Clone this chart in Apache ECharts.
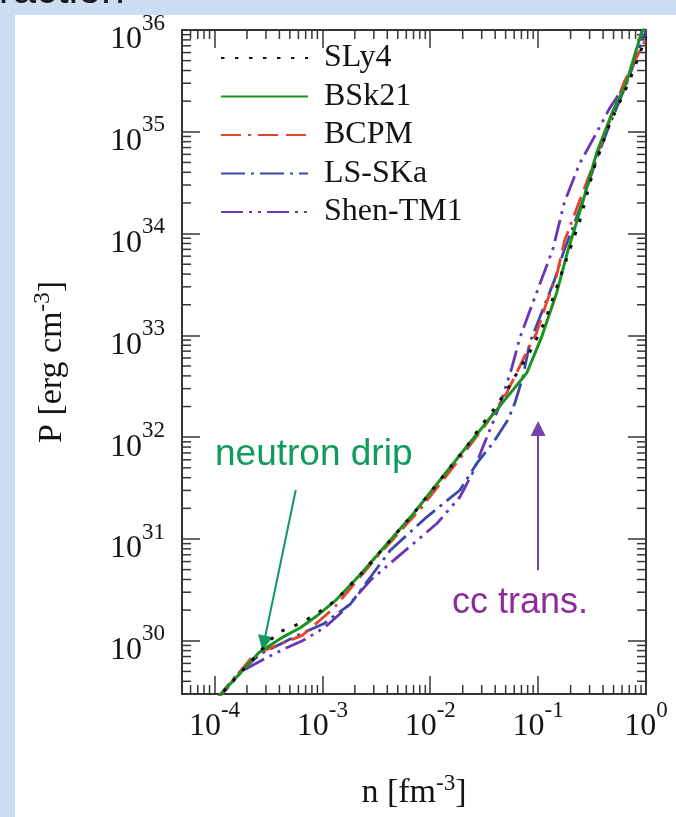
<!DOCTYPE html>
<html>
<head>
<meta charset="utf-8">
<script src="https://cdn.jsdelivr.net/npm/echarts@6/dist/echarts.min.js"></script>
<style>
  html, body { margin: 0; padding: 0; background: #ffffff; }
  #main { width: 676px; height: 817px; }
</style>
</head>
<body>
<div id="main"></div>
<script>
// Neutron-star crust equations of state: pressure P [erg cm^-3] vs number density n [fm^-3]

const seriesNames = ['SLy4', 'BSk21', 'BCPM', 'LS-SKa', 'Shen-TM1'];

const nSLy4 = [1.0e-4, 1.15e-4, 2.6e-4, 3.87e-4, 5.1e-4, 6.72e-4, 8.67e-4, 1.327e-3, 2.26e-3, 7.0e-3, 0.0218, 0.030, 0.0358, 0.0493, 0.0894, 0.1154, 0.183, 0.2427, 0.3318, 0.4563, 0.7026, 1.0];
const pSLy4 = [2.5e29, 3.0e29, 7.7e29, 1.21e30, 1.35e30, 1.55e30, 1.82e30, 2.49e30, 4.5e30, 1.78e31, 8.1e31, 1.32e32, 1.66e32, 2.71e32, 7.77e32, 1.37e33, 5.58e33, 1.32e34, 4.5e34, 1.17e35, 3.16e35, 8.6e35];

const nBSk21 = [1.0e-4, 1.15e-4, 2.6e-4, 4.39e-4, 6.3e-4, 8.86e-4, 1.327e-3, 2.26e-3, 7.0e-3, 0.0218, 0.0588, 0.0787, 0.1082, 0.1489, 0.188, 0.2587, 0.3483, 0.4895, 0.6592, 0.9068, 1.0];
const pBSk21 = [2.5e29, 3.0e29, 7.7e29, 1.10e30, 1.35e30, 1.75e30, 2.49e30, 4.5e30, 1.78e31, 8.1e31, 2.93e32, 4.3e32, 9.73e32, 2.64e33, 6.69e33, 2.03e34, 6.18e34, 1.57e35, 3.03e35, 9.41e35, 1.13e36];

const nBCPM = [1.0e-4, 1.15e-4, 2.18e-4, 2.6e-4, 6.53e-4, 1.27e-3, 3.22e-3, 8.07e-3, 0.0189, 0.0334, 0.051, 0.0631, 0.0775, 0.0967, 0.1196, 0.148, 0.1753, 0.2412, 0.3318, 0.4563, 0.628, 1.0];
const pBCPM = [2.5e29, 3.0e29, 6.7e29, 7.7e29, 1.13e30, 2.08e30, 6.66e30, 1.96e31, 6.2e31, 1.37e32, 2.71e32, 4.27e32, 6.73e32, 1.06e33, 2.09e33, 3.82e33, 8.4e33, 2.08e34, 5.04e34, 1.25e35, 3.09e35, 8.21e35];

const nLSSKa = [1.0e-4, 1.15e-4, 1.64e-4, 2.69e-4, 5.88e-4, 1.03e-3, 1.83e-3, 4.27e-3, 9.33e-3, 0.0189, 0.0272, 0.0382, 0.0525, 0.061, 0.0723, 0.0838, 0.1154, 0.1426, 0.169, 0.2427, 0.3483, 0.4597, 0.6592, 1.0];
const pLSSKa = [2.5e29, 3.0e29, 4.74e29, 7.45e29, 1.13e30, 1.47e30, 2.31e30, 7.76e30, 1.65e31, 3.03e31, 5.58e31, 8.79e31, 1.48e32, 2.18e32, 3.93e32, 8.49e32, 2.01e33, 3.55e33, 6.25e33, 1.73e34, 5.4e34, 1.17e35, 2.96e35, 9.9e35];

const nShenTM1 = [1.0e-4, 1.15e-4, 1.83e-4, 3.1e-4, 4.42e-4, 6.53e-4, 8.99e-4, 1.15e-3, 1.58e-3, 2.1e-3, 2.79e-3, 7.0e-3, 0.01153, 0.0189, 0.0251, 0.030, 0.0443, 0.0571, 0.0678, 0.0894, 0.1368, 0.1753, 0.2412, 0.3318, 0.4563, 0.6592, 0.815, 1.0];
const pShenTM1 = [2.4e29, 2.9e29, 5.1e29, 6.9e29, 8.3e29, 1.0e30, 1.22e30, 1.47e30, 1.99e30, 2.79e30, 3.93e30, 9.03e30, 1.42e31, 2.6e31, 4.6e31, 7.5e31, 2.08e32, 4.82e32, 9.5e32, 2.1e33, 7.0e33, 2.03e34, 4.82e34, 8.9e34, 1.68e35, 3.03e35, 5.85e35, 1.03e36];

// Axis ranges and decade tick labels
const X_MIN = 5e-5, X_MAX = 1;
const Y_MIN = 3e29, Y_MAX = 1e36;
const xTickLabels = ['-4', '-3', '-2', '-1', '0'];
const yTickLabels = ['30', '31', '32', '33', '34', '35', '36'];
const xDecades = [1e-5, 1e-4, 1e-3, 1e-2, 1e-1];
const yDecades = [1e29, 1e30, 1e31, 1e32, 1e33, 1e34, 1e35];
const minorSteps = [2, 3, 4, 5, 6, 7, 8, 9];

// Annotation arrows (tail, head) in data coordinates
const dripArrow = [[5.67e-4, 3.03e31], [2.87e-4, 9.5e29]];
const ccArrow = [[0.1, 4.93e30], [0.1, 1.22e32]];

const SERIF = '"Liberation Serif", "Times New Roman", serif';
const SANS = '"Liberation Sans", Arial, sans-serif';
const INK = '#141414';
const AXIS_COLOR = '#363636';
const MAJOR_LEN = 18, MINOR_LEN = 9;

function minorTicks(decades, lo, hi) {
  const out = [];
  decades.forEach(d => minorSteps.forEach(m => {
    const v = m * d;
    if (v > lo * 1.0001 && v < hi * 0.9999) out.push(v);
  }));
  return out;
}
const xMinor = minorTicks(xDecades, X_MIN, X_MAX);
const yMinor = minorTicks(yDecades, Y_MIN, Y_MAX);

function powerLabel(labels) {
  return function (v) {
    const e = Math.log10(v);
    const r = Math.round(e);
    if (Math.abs(e - r) > 1e-6) return '';
    const s = String(r);
    return labels.indexOf(s) >= 0 ? '{b|10}{e|' + s + '}' : '';
  };
}

// "10" with a raised exponent
const xPowRich = {
  b: { fontSize: 32, fontFamily: SERIF, color: INK, padding: [12, 0, 0, 0] },
  e: { fontSize: 23, fontFamily: SERIF, color: INK, verticalAlign: 'top' }
};
const yPowRich = {
  b: { fontSize: 32, fontFamily: SERIF, color: INK, padding: [20, 0, 0, 0] },
  e: { fontSize: 23, fontFamily: SERIF, color: INK, verticalAlign: 'top', padding: [8, 0, 0, 0] }
};
const nameRich = {
  t: { fontSize: 34, fontFamily: SERIF, color: INK, padding: [4, 0, 0, 0] },
  s: { fontSize: 23, fontFamily: SERIF, color: INK, verticalAlign: 'top' }
};

function zip(ns, ps) { return ns.map((n, i) => [n, ps[i]]); }

function curve(name, ns, ps, color, type, width, z) {
  return {
    name: name, type: 'line', data: zip(ns, ps),
    symbol: 'none', showSymbol: false, smooth: false, clip: true, z: z,
    lineStyle: { color: color, width: width, type: type, cap: 'butt' },
    itemStyle: { color: color },
    emphasis: { disabled: true },
    animation: false
  };
}

const COLORS = {
  SLy4: '#101010',
  BSk21: '#1b9321',
  BCPM: '#e8412f',
  LSSKa: '#3a48aa',
  ShenTM1: '#6a35b8'
};

const DRIP_COLOR = '#0f9a5e';
const CC_COLOR = '#7442ad';

const green = curve('BSk21', nBSk21, pBSk21, COLORS.BSk21, 'solid', 3, 6);
green.markLine = {
  silent: true, animation: false,
  symbol: ['none', 'triangle'], symbolSize: 15,
  label: { show: false },
  emphasis: { disabled: true },
  data: [
    [
      { coord: dripArrow[0], lineStyle: { color: DRIP_COLOR, width: 2, type: 'solid' }, itemStyle: { color: DRIP_COLOR } },
      { coord: dripArrow[1], lineStyle: { color: DRIP_COLOR, width: 2, type: 'solid' }, itemStyle: { color: DRIP_COLOR } }
    ],
    [
      { coord: ccArrow[0], lineStyle: { color: CC_COLOR, width: 2, type: 'solid' }, itemStyle: { color: CC_COLOR } },
      { coord: ccArrow[1], lineStyle: { color: CC_COLOR, width: 2, type: 'solid' }, itemStyle: { color: CC_COLOR } }
    ]
  ]
};

function minorSeries(values, isX) {
  return {
    type: 'custom', silent: true, z: 1, animation: false,
    data: values.map(v => isX ? [v, Y_MIN] : [X_MIN, v]),
    renderItem: function (params, api) {
      const style = { stroke: AXIS_COLOR, lineWidth: 1.5 };
      if (isX) {
        const v = api.value(0);
        const b = api.coord([v, Y_MIN]);
        const t = api.coord([v, Y_MAX]);
        return { type: 'group', children: [
          { type: 'line', shape: { x1: b[0], y1: b[1], x2: b[0], y2: b[1] - MINOR_LEN }, style: style },
          { type: 'line', shape: { x1: t[0], y1: t[1], x2: t[0], y2: t[1] + MINOR_LEN }, style: style }
        ] };
      }
      const v = api.value(1);
      const l = api.coord([X_MIN, v]);
      const r = api.coord([X_MAX, v]);
      return { type: 'group', children: [
        { type: 'line', shape: { x1: l[0], y1: l[1], x2: l[0] + MINOR_LEN, y2: l[1] }, style: style },
        { type: 'line', shape: { x1: r[0], y1: r[1], x2: r[0] - MINOR_LEN, y2: r[1] }, style: style }
      ] };
    }
  };
}

function logAxis(extra) {
  return Object.assign({
    type: 'log', logBase: 10, splitNumber: 5,
    axisLine: { show: true, onZero: false, lineStyle: { color: AXIS_COLOR, width: 2 } },
    axisTick: { show: true, inside: true, length: MAJOR_LEN, lineStyle: { color: AXIS_COLOR, width: 1.5 } },
    minorTick: { show: false },
    splitLine: { show: false },
    minorSplitLine: { show: false }
  }, extra);
}

const chart = echarts.init(document.getElementById('main'), null, { renderer: 'canvas' });

chart.setOption({
  animation: false,
  backgroundColor: '#cbddf1',
  graphic: [
    { type: 'rect', z: -10, silent: true, shape: { x: 15, y: 15, width: 661, height: 802 }, style: { fill: '#ffffff' } },
    { type: 'text', z: 10, silent: true, x: -27, y: -9,
      style: { text: 'Fraction', font: '42px ' + SANS, fill: '#1a1a1a', verticalAlign: 'middle' } },
    { type: 'text', z: 10, silent: true, x: 215, y: 455,
      style: { text: 'neutron drip', font: '37px ' + SANS, fill: DRIP_COLOR, verticalAlign: 'middle' } },
    { type: 'text', z: 10, silent: true, x: 452, y: 603,
      style: { text: 'cc trans.', font: '36px ' + SANS, fill: '#8c2c9c', verticalAlign: 'middle' } }
  ],
  grid: { left: 182, right: 30, top: 30, bottom: 123, containLabel: false, outerBoundsMode: 'none' },
  legend: {
    data: seriesNames,
    orient: 'vertical',
    left: 220, top: 42,
    padding: 0,
    itemWidth: 87, itemHeight: 20, itemGap: 6.5,
    selectedMode: false,
    itemStyle: { color: 'rgba(0,0,0,0)', borderWidth: 0, opacity: 0 },
    textStyle: { fontFamily: SERIF, fontSize: 32, color: INK, padding: [0, 0, 0, 11] }
  },
  xAxis: [
    logAxis({
      position: 'bottom', min: X_MIN, max: X_MAX,
      name: '{t|n [fm}{s|-3}{t|]}',
      nameLocation: 'middle', nameGap: 78,
      nameTextStyle: { rich: nameRich },
      axisLabel: { show: true, margin: 5, interval: 0, formatter: powerLabel(xTickLabels), rich: xPowRich }
    }),
    logAxis({
      position: 'top', min: X_MIN, max: X_MAX,
      axisLabel: { show: false }
    })
  ],
  yAxis: [
    logAxis({
      position: 'left', min: Y_MIN, max: Y_MAX, splitNumber: 7,
      name: '{t|P [erg cm}{s|-3}{t|]}',
      nameLocation: 'middle', nameGap: 113, nameRotate: 90,
      nameTextStyle: { rich: nameRich },
      axisLabel: { show: true, margin: 17, interval: 0, formatter: powerLabel(yTickLabels), rich: yPowRich }
    }),
    logAxis({
      position: 'right', min: Y_MIN, max: Y_MAX, splitNumber: 7,
      axisLabel: { show: false }
    })
  ],
  series: [
    curve('Shen-TM1', nShenTM1, pShenTM1, COLORS.ShenTM1, [22, 6, 3, 6, 3, 6], 2.8, 3),
    curve('LS-SKa', nLSSKa, pLSSKa, COLORS.LSSKa, [24, 6, 3, 6], 2.8, 4),
    curve('BCPM', nBCPM, pBCPM, COLORS.BCPM, [20, 7, 3, 7, 20, 8], 2.8, 5),
    green,
    curve('SLy4', nSLy4, pSLy4, COLORS.SLy4, [3.5, 10.5], 3, 7),
    minorSeries(xMinor, true),
    minorSeries(yMinor, false)
  ]
});
</script>
</body>
</html>
